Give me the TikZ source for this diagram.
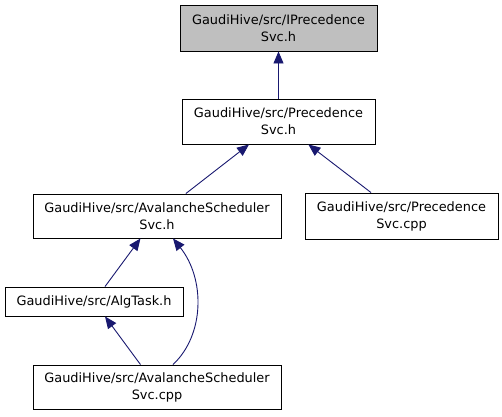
\documentclass[tikz,border=0pt]{standalone}
\usepackage{fontspec}
\setmainfont{DejaVu Sans}
\usetikzlibrary{arrows.meta}
\definecolor{EdgeBlue}{HTML}{191970}
\definecolor{NodeGrey}{HTML}{BFBFBF}
\begin{document}
\begin{tikzpicture}[x=1pt, y=-1pt,
  file/.style={draw=black, line width=0.9pt, fill=white, align=center,
               inner sep=0pt, font=\fontsize{12.9}{17}\selectfont},
  dep/.style={draw=EdgeBlue, line width=0.9pt,
              -{Triangle[length=12pt,width=10pt]}}]
  \useasboundingbox (0,0) rectangle (502,416);
  \node[file, fill=NodeGrey, minimum width=197pt, minimum height=46pt] (ipsvc) at (278.5,28)
    {GaudiHive/src/IPrecedence\\Svc.h};
  \node[file, minimum width=193pt, minimum height=45pt] (psvch) at (278.5,121.5)
    {GaudiHive/src/Precedence\\Svc.h};
  \node[file, minimum width=248pt, minimum height=44pt] (asch) at (157,216)
    {GaudiHive/src/AvalancheScheduler\\Svc.h};
  \node[file, minimum width=193pt, minimum height=46pt] (pscpp) at (401.5,216)
    {GaudiHive/src/Precedence\\Svc.cpp};
  \node[file, minimum width=178pt, minimum height=29pt] (algt) at (94,301.5)
    {GaudiHive/src/AlgTask.h};
  \node[file, minimum width=248pt, minimum height=44pt] (ascpp) at (157,387)
    {GaudiHive/src/AvalancheScheduler\\Svc.cpp};
  \draw[dep] (psvch) -- (ipsvc);
  \draw[dep] (asch) -- (psvch);
  \draw[dep] (pscpp) -- (psvch);
  \draw[dep] (algt) -- (asch);
  \draw[dep] (ascpp) -- (algt);
  \draw[dep] ([xshift=16pt]ascpp.north) .. controls +(32,-30) and +(32,40) .. ([xshift=16pt]asch.south);
\end{tikzpicture}
\end{document}
